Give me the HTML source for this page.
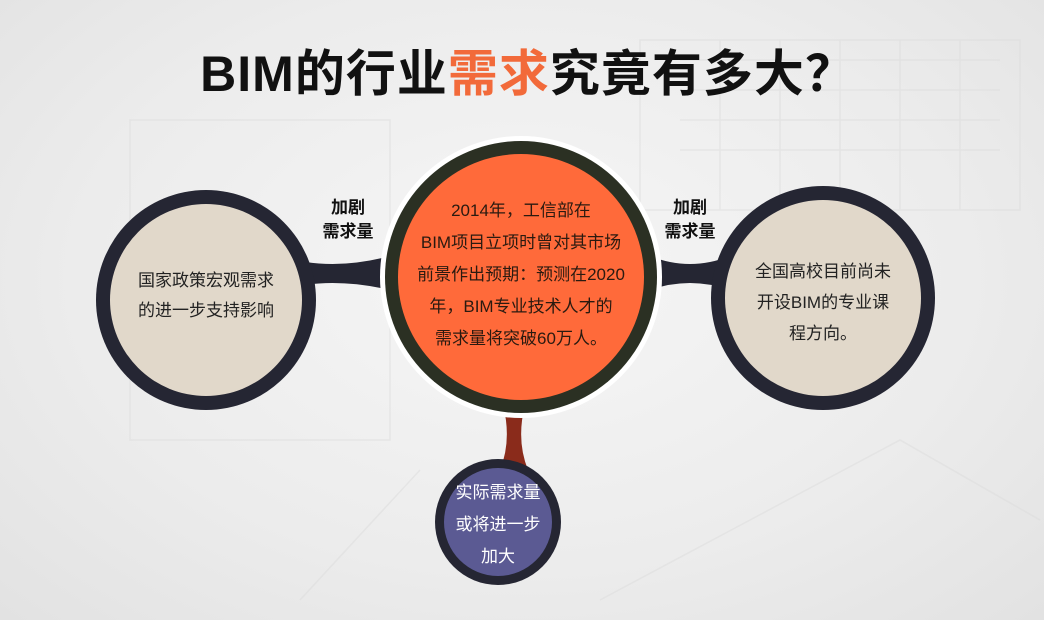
<!DOCTYPE html>
<html><head><meta charset="utf-8"><style>
html,body{margin:0;padding:0}
body{width:1044px;height:620px;overflow:hidden;background:radial-gradient(ellipse at 50% 45%,#f6f6f6 0%,#ececec 60%,#e2e2e2 100%);font-family:"Liberation Sans","Noto Sans CJK SC",sans-serif;position:relative}
.t{position:absolute;text-align:center;white-space:nowrap}
</style></head><body>
<svg width="1044" height="620" style="position:absolute;left:0;top:0">
<g stroke="#dcdcdc" stroke-width="1.5" fill="none" opacity="0.5">
<rect x="130" y="120" width="260" height="320"/>
<rect x="640" y="40" width="380" height="170"/>
<path d="M680 60 L1000 60 M680 90 L1000 90 M680 120 L1000 120 M680 150 L1000 150 M720 40 L720 210 M780 40 L780 210 M840 40 L840 210 M900 40 L900 210 M960 40 L960 210"/>
<path d="M600 600 L900 440 L1040 520 M300 600 L420 470"/>
</g>
<path d="M280 256 Q330 272 390 256 L390 290 Q330 276 280 290 Z" fill="#252633"/>
<path d="M650 256 Q690 272 730 256 L730 290 Q690 276 650 290 Z" fill="#252633"/>
<path d="M503 405 Q512 440 500 470 L528 470 Q516 440 525 405 Z" fill="#8a2b1b"/>
<circle cx="206" cy="300" r="110" fill="#252633"/>
<circle cx="206" cy="300" r="96" fill="#e1d8ca"/>
<circle cx="823" cy="298" r="112" fill="#252633"/>
<circle cx="823" cy="298" r="98" fill="#e1d8ca"/>
<circle cx="521" cy="277" r="141" fill="#ffffff"/>
<circle cx="521" cy="277" r="136" fill="#2b3023"/>
<circle cx="521" cy="277" r="123" fill="#ff6a3a"/>
<circle cx="498" cy="522" r="63" fill="#252633"/>
<circle cx="498" cy="522" r="54" fill="#5b5a93"/>
</svg>
<div class="t" style="left:20px;width:1016px;top:34px;font-size:50px;font-weight:bold;color:#111;letter-spacing:1px">BIM的行业<span style="color:#f26a3a">需求</span>究竟有多大？</div>
<div class="t" style="left:318px;width:60px;top:196px;font-size:17px;font-weight:bold;line-height:24px;color:#111">加剧<br>需求量</div>
<div class="t" style="left:660px;width:60px;top:196px;font-size:17px;font-weight:bold;line-height:24px;color:#111">加剧<br>需求量</div>
<div class="t" style="left:106px;width:200px;top:266px;font-size:17px;line-height:30px;color:#222">国家政策宏观需求<br>的进一步支持影响</div>
<div class="t" style="left:723px;width:200px;top:256px;font-size:17px;line-height:31px;color:#222">全国高校目前尚未<br>开设BIM的专业课<br>程方向。</div>
<div class="t" style="left:401px;width:240px;top:195px;font-size:17px;line-height:32px;color:#2a1a10">2014年，工信部在<br>BIM项目立项时曾对其市场<br>前景作出预期：预测在2020<br>年，BIM专业技术人才的<br>需求量将突破60万人。</div>
<div class="t" style="left:438px;width:120px;top:477px;font-size:17px;line-height:32px;color:#fff">实际需求量<br>或将进一步<br>加大</div>
</body></html>
